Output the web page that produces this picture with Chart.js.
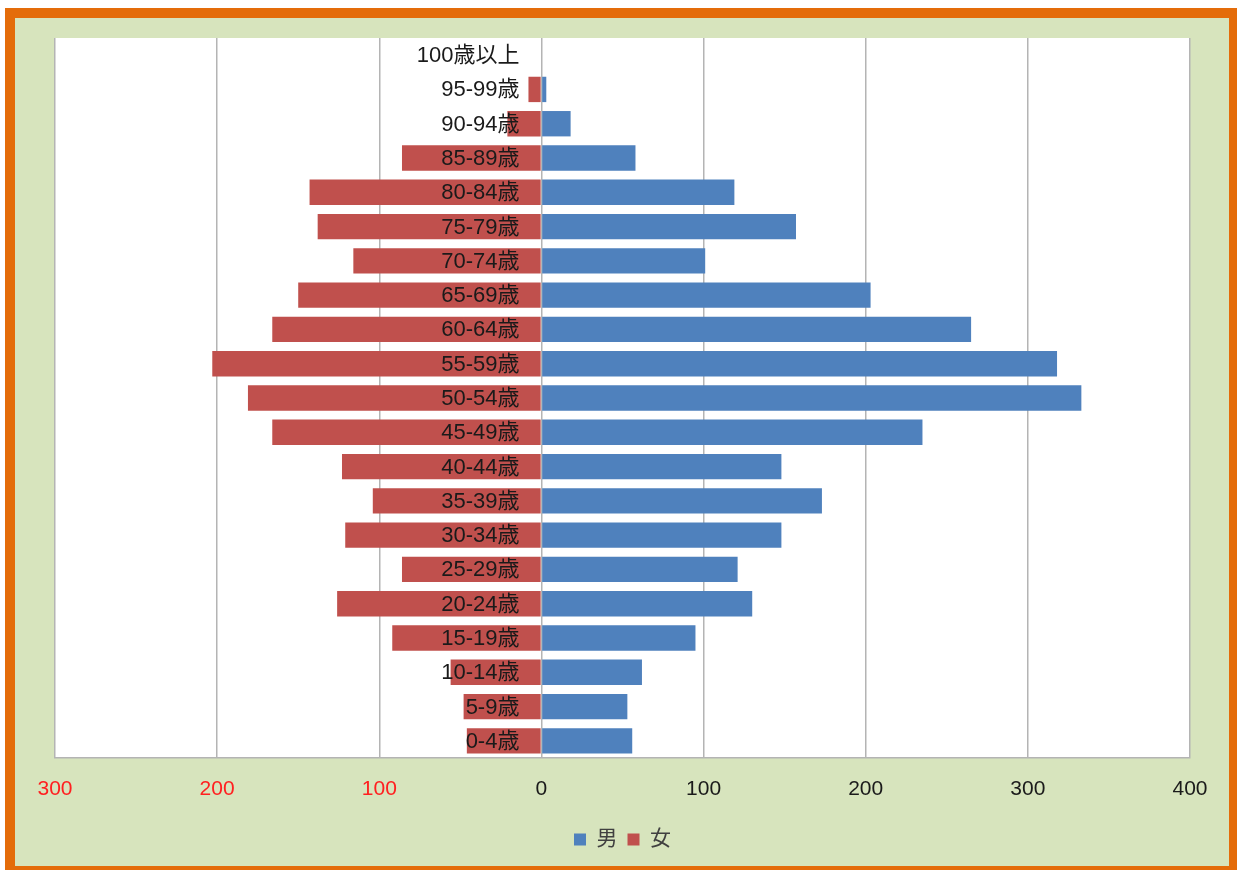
<!DOCTYPE html>
<html>
<head>
<meta charset="utf-8">
<script src="https://cdn.jsdelivr.net/npm/chart.js@4.4.1/dist/chart.umd.min.js"></script>
<style>
    html, body { margin: 0; padding: 0; background: #ffffff; overflow: hidden; }
    #frame {
        position: absolute; left: 5px; top: 8px;
        width: 1214px; height: 848px;
        border: 10px solid #e46c0a;
        background: #d7e4bd;
    }
    #wrap { position: relative; width: 1214px; height: 848px; }
</style>
</head>
<body>
<div id="frame"><div id="wrap"><canvas id="pyramid"></canvas></div></div>
<script>
//人口ピラミッド data (上から下の順)
const ageLabels = ['100歳以上','95-99歳','90-94歳','85-89歳','80-84歳','75-79歳','70-74歳',
    '65-69歳','60-64歳','55-59歳','50-54歳','45-49歳','40-44歳','35-39歳','30-34歳',
    '25-29歳','20-24歳','15-19歳','10-14歳','5-9歳','0-4歳'];
const maleValues = [0,3,18,58,119,157,101,203,265,318,333,235,148,173,148,121,130,95,62,53,56];
const femaleValues = [0,8,21,86,143,138,116,150,166,203,181,166,123,104,121,86,126,92,56,48,46];
const seriesNames = ['男','女'];
const xTicks = [-300,-200,-100,0,100,200,300,400];

const fontFamily = "'Liberation Sans', 'Noto Sans CJK JP', sans-serif";

//plot area white background
const plotBg = {
    id: 'plotBg',
    beforeDraw(chart) {
        const a = chart.chartArea;
        const ctx = chart.ctx;
        ctx.save();
        ctx.fillStyle = '#ffffff';
        ctx.fillRect(a.left, a.top, a.right - a.left, a.bottom - a.top);
        ctx.restore();
    }
};

//age labels drawn left of the 0 line, over the bars
const ageText = {
    id: 'ageText',
    afterDatasetsDraw(chart) {
        const ctx = chart.ctx;
        const xs = chart.scales.x;
        const ys = chart.scales.y;
        const x0 = xs.getPixelForValue(0) - 22;
        ctx.save();
        ctx.font = '22px ' + fontFamily;
        ctx.fillStyle = '#1a1a1a';
        ctx.textAlign = 'right';
        ctx.textBaseline = 'middle';
        ageLabels.forEach(function (lab, i) {
            ctx.fillText(lab, x0, ys.getPixelForValue(i) + 1);
        });
        ctx.restore();
    }
};

new Chart(document.getElementById('pyramid'), {
    type: 'bar',
    data: {
        labels: ageLabels,
        datasets: [
            {
                label: seriesNames[0],
                data: maleValues,
                backgroundColor: '#4f81bd',
                borderWidth: 0,
                barPercentage: 0.74,
                categoryPercentage: 1,
            },
            {
                label: seriesNames[1],
                data: femaleValues.map(v => -v),
                backgroundColor: '#c0504d',
                borderWidth: 0,
                barPercentage: 0.74,
                categoryPercentage: 1,
            }]
    },
    options: {
        indexAxis: 'y',
        responsive: true,
        maintainAspectRatio: false,
        animation: false,
        layout: {
            padding: { left: 40, right: 39, top: 20, bottom: 6 }
        },
        scales: {
            x: {
                stacked: true,
                min: xTicks[0],
                max: xTicks[xTicks.length - 1],
                afterBuildTicks: function (scale) {
                    scale.ticks = xTicks.map(v => ({ value: v }));
                },
                afterFit: function (scale) {
                    scale.height = 61;
                },
                grid: {
                    color: '#b4b4b4',
                    lineWidth: 1.5,
                    drawTicks: false,
                },
                border: {
                    color: '#b4b4b4',
                    width: 1.5,
                },
                ticks: {
                    padding: 19,
                    font: { size: 21, family: fontFamily },
                    color: function (c) {
                        return c.tick && c.tick.value < 0 ? '#ff2020' : '#1a1a1a';
                    },
                    callback: function (value) {
                        return Math.abs(value);
                    }
                }
            },
            y: {
                stacked: true,
                display: false,
            }
        },
        plugins: {
            legend: {
                display: true,
                position: 'bottom',
                labels: {
                    boxWidth: 12,
                    boxHeight: 12,
                    padding: 10,
                    color: '#404040',
                    font: { size: 21, family: fontFamily },
                }
            },
            tooltip: { enabled: false },
        }
    },
    plugins: [plotBg, ageText]
});
</script>
</body>
</html>
